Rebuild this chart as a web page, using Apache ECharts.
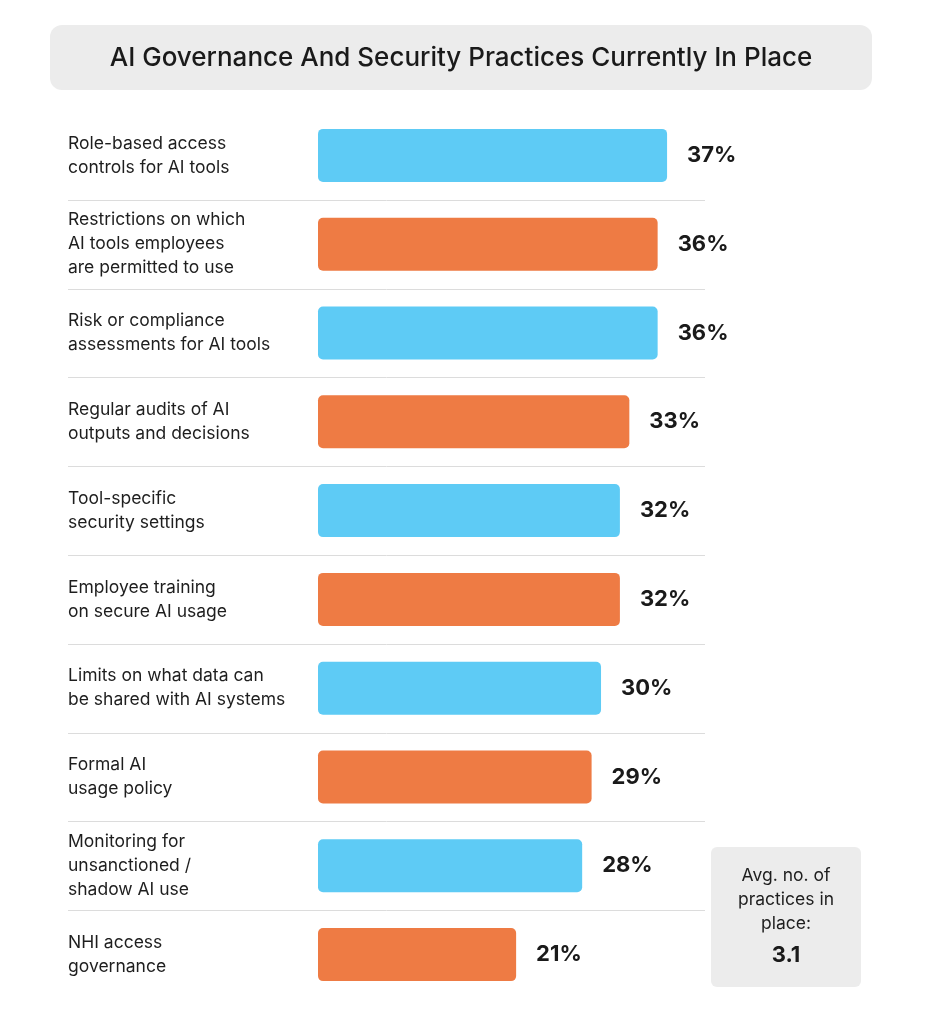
<!DOCTYPE html>
<html><head><meta charset="utf-8">
<script src="https://cdn.jsdelivr.net/npm/echarts@6/dist/echarts.min.js"></script>
<style>html,body{margin:0;padding:0;background:#fff}#c{width:931px;height:1024px}</style>
</head><body><div id="c"></div>
<script>
const categories = [
  "Role-based access\ncontrols for AI tools",
  "Restrictions on which\nAI tools employees\nare permitted to use",
  "Risk or compliance\nassessments for AI tools",
  "Regular audits of AI\noutputs and decisions",
  "Tool-specific\nsecurity settings",
  "Employee training\non secure AI usage",
  "Limits on what data can\nbe shared with AI systems",
  "Formal AI\nusage policy",
  "Monitoring for\nunsanctioned /\nshadow AI use",
  "NHI access\ngovernance"
];
const values = [37, 36, 36, 33, 32, 32, 30, 29, 28, 21];
const colors = ["#5ecbf5", "#ee7b44"];
const title = "AI Governance And Security Practices Currently In Place";
const avgText = "Avg. no. of\npractices in\nplace:";
const avgValue = "3.1";
const FONT = "Inter, 'Noto Sans', sans-serif";

const chart = echarts.init(document.getElementById('c'));
const option = {
  backgroundColor: '#fff',
  grid: {left: 318, top: 111, width: 367, height: 888},
  xAxis: {type: 'value', min: 0, max: 38.9, show: false},
  yAxis: {
    type: 'category', data: categories, inverse: true,
    axisLine: {show: false}, axisTick: {show: false}, splitLine: {show: false},
    axisLabel: {align: 'left', margin: 250, color: '#1e1e1e', fontSize: 17.5, lineHeight: 24, fontFamily: FONT}
  },
  series: [{
    type: 'bar', barWidth: 53,
    data: values.map((v, i) => ({value: v, itemStyle: {color: colors[i % 2]}})),
    itemStyle: {borderRadius: 5},
    label: {show: true, position: 'right', distance: 20, formatter: '{c}%',
      fontSize: 22, fontWeight: 'bold', color: '#1a1a1a', fontFamily: FONT}
  }],
  graphic: [
    {type: 'rect', shape: {x: 50, y: 25, width: 822, height: 65, r: 12}, style: {fill: '#ececec'}},
    {type: 'text', x: 461, y: 58, style: {text: title, align: 'center', verticalAlign: 'middle',
      fontSize: 26, fontWeight: 500, fill: '#1a1a1a', fontFamily: FONT}},
    {type: 'rect', shape: {x: 711, y: 847, width: 150, height: 140, r: 6}, style: {fill: '#ececec'}},
    {type: 'text', x: 786, y: 900, style: {text: avgText, align: 'center', verticalAlign: 'middle',
      fontSize: 17.5, lineHeight: 24, fill: '#1e1e1e', fontFamily: FONT}},
    {type: 'text', x: 786, y: 955, style: {text: avgValue, align: 'center', verticalAlign: 'middle',
      fontSize: 22, fontWeight: 'bold', fill: '#1a1a1a', fontFamily: FONT}}
  ]
};
chart.setOption(option);
const lines = [];
for (let i = 0; i < categories.length - 1; i++) {
  const y1 = chart.convertToPixel({yAxisIndex: 0}, i);
  const y2 = chart.convertToPixel({yAxisIndex: 0}, i + 1);
  const y = Math.round((y1 + y2) / 2) + 0.5;
  lines.push({type: 'line', shape: {x1: 68, y1: y, x2: 705, y2: y}, style: {stroke: '#dcdcdc', lineWidth: 1}, z: -1});
}
chart.setOption({graphic: option.graphic.concat(lines)});
</script></body></html>
